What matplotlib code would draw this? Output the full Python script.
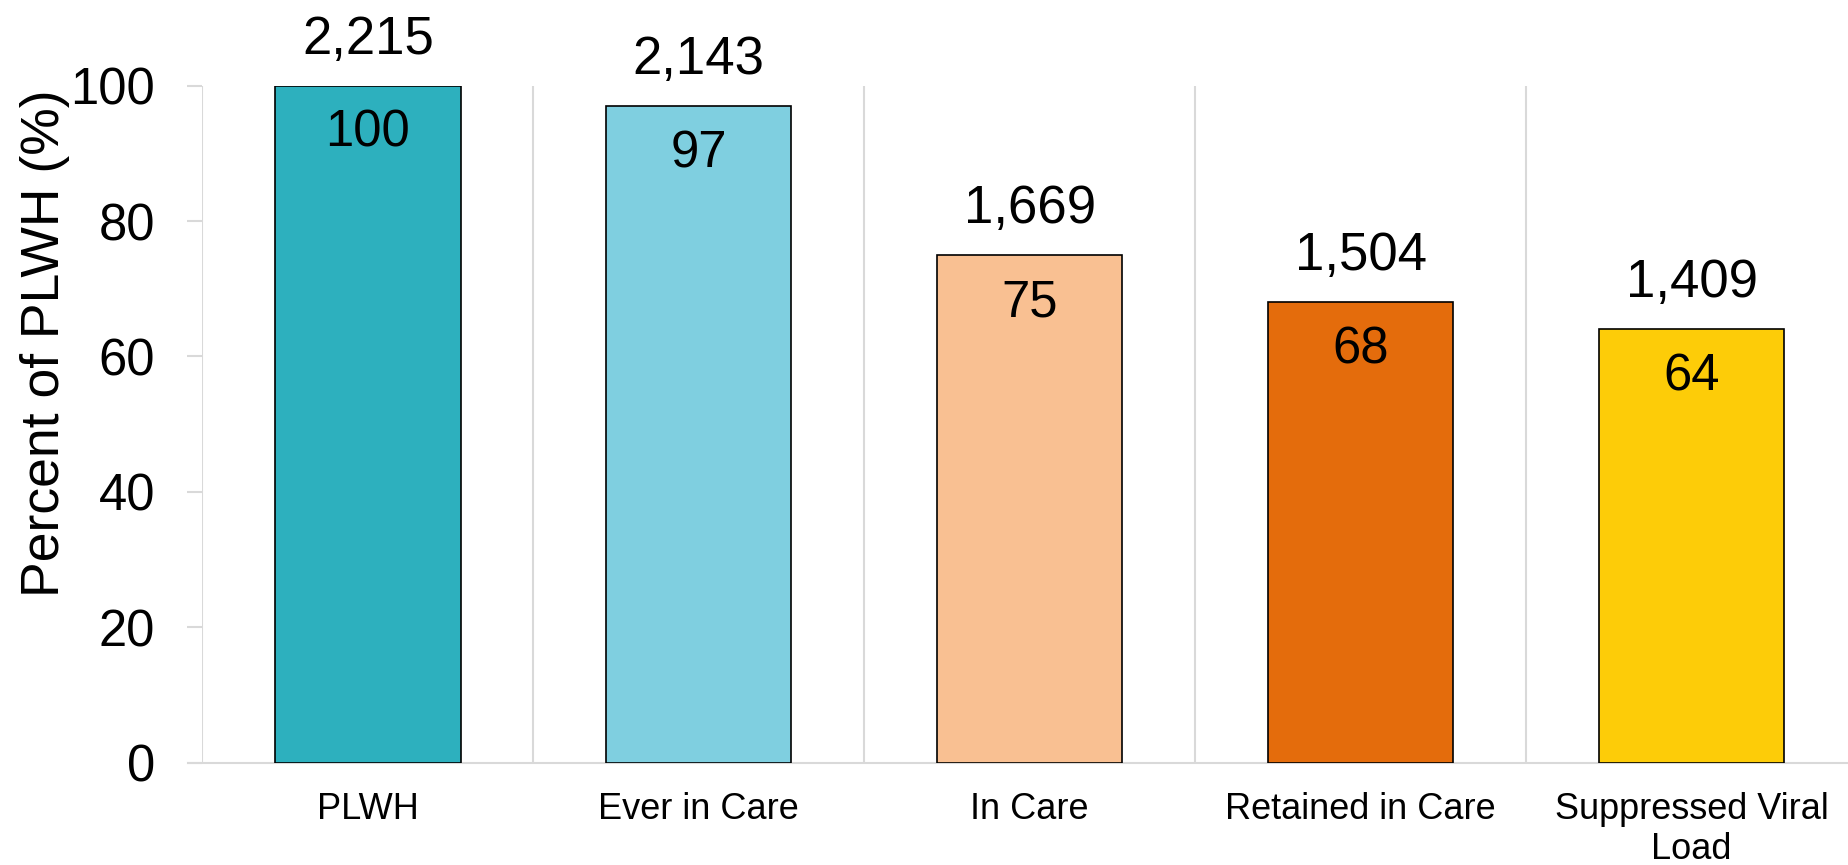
import matplotlib.pyplot as plt

categories = ["PLWH", "Ever in Care", "In Care", "Retained in Care", "Suppressed Viral\nLoad"]
percents = [100, 97, 75, 68, 64]
counts = [2215, 2143, 1669, 1504, 1409]
colors = ["#2DB0BE", "#7FCFE0", "#F9C092", "#E46C0C", "#FDCC08"]

plt.rcParams["font.family"] = ["Liberation Sans", "DejaVu Sans"]

fig = plt.figure(figsize=(18.49, 8.65), dpi=100)
ax = fig.add_axes([0.1095, 0.1183, 0.8948, 0.7827])

x = range(len(categories))
ax.bar(x, percents, width=0.56, color=colors, edgecolor="black", linewidth=1.2, zorder=3)

for xi, pct, n in zip(x, percents, counts):
    ax.annotate(f"{n:,}", (xi, pct), xytext=(0, 23), textcoords="offset points",
                ha="center", va="baseline", fontsize=38, zorder=4)
    ax.annotate(f"{pct}", (xi, pct), xytext=(0, -44), textcoords="offset points",
                ha="center", va="baseline", fontsize=36.5, zorder=4)

ax.set_xlim(-0.5, len(categories) - 0.5)
ax.set_ylim(0, 100)
ax.set_yticks(range(0, 101, 20))
ax.set_xticks(list(x))
ax.set_xticklabels(categories, fontsize=26, linespacing=1.2)

# category dividers
for b in range(len(categories)):
    ax.axvline(b - 0.5, color="#D9D9D9", linewidth=1.5, zorder=1)

for side in ["top", "right", "left"]:
    ax.spines[side].set_visible(False)
ax.spines["bottom"].set_color("#D9D9D9")
ax.spines["bottom"].set_linewidth(1.5)
ax.spines["bottom"].set_bounds(-0.545, len(categories) - 0.5)

ax.tick_params(axis="x", length=0, pad=21)
ax.tick_params(axis="y", length=11, width=1.5, color="#D9D9D9", pad=23, labelsize=36.5)

ax.set_ylabel("Percent of PLWH (%)", fontsize=38.5)
ax.yaxis.set_label_coords(-0.080, 0.619)

fig.savefig("out.png", dpi=100)
